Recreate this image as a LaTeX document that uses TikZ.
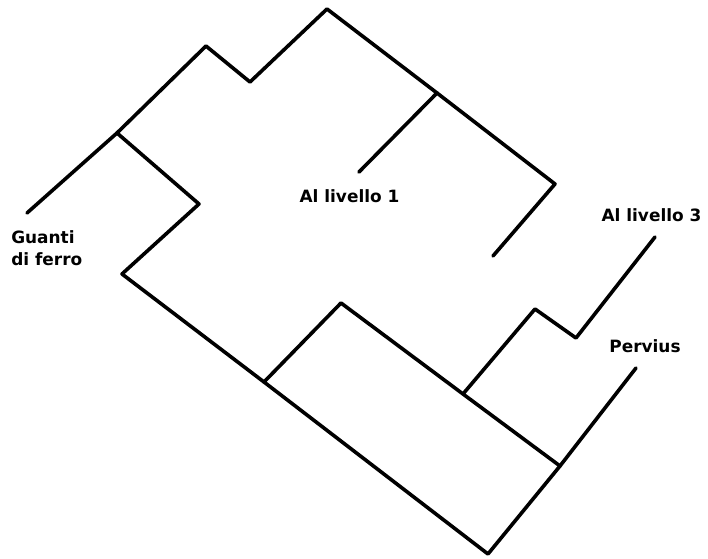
\documentclass[tikz,border=0pt]{standalone}
\usepackage{fontspec}
\setmainfont{DejaVu Sans}
\tikzset{wall/.style={line width=2.7pt,line cap=round,line join=round,black},
lab/.style={font=\bfseries\fontsize{12.7pt}{16.5pt}\selectfont,inner sep=0pt,align=left}}
\begin{document}
\begin{tikzpicture}[x=0.75pt,y=-0.75pt]
\useasboundingbox[fill=white] (0,0) rectangle (708,559);
\coordinate (a) at (27,213);
\coordinate (b) at (117,133);
\coordinate (c) at (206,46);
\coordinate (d) at (250,82);
\coordinate (e) at (327,9);
\coordinate (f) at (437,93);
\coordinate (g) at (555,184);
\coordinate (h) at (493,256);
\coordinate (i) at (359,172);
\coordinate (j) at (199,204);
\coordinate (k) at (122,274);
\coordinate (l) at (264,382);
\coordinate (m) at (488,554);
\coordinate (n) at (560,466);
\coordinate (o) at (636,368);
\coordinate (p) at (341,303);
\coordinate (q) at (463,394);
\coordinate (r) at (535,309);
\coordinate (s) at (576,338);
\coordinate (t) at (655,237);
\draw[wall] (a)--(b)--(c)--(d)--(e)--(f)--(g)--(h);
\draw[wall] (f)--(i);
\draw[wall] (b)--(j)--(k)--(l)--(m)--(n)--(o);
\draw[wall] (l)--(p)--(q)--(n);
\draw[wall] (q)--(r)--(s)--(t);
\node[lab,anchor=center] (t1) at (349.5,196.5) {Al livello 1};
\node[lab,anchor=center] (t2) at (651.5,215.5) {Al livello 3};
\node[lab,anchor=center] (t3) at (645,346.5) {Pervius};
\node[lab,anchor=west] (t4) at (11,248) {Guanti\\di ferro};
\end{tikzpicture}
\end{document}
